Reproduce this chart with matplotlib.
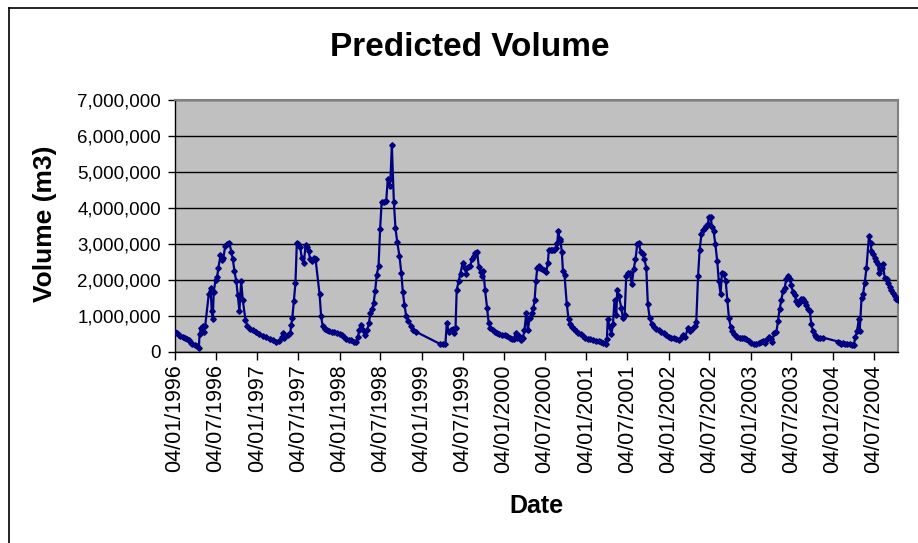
import numpy as np
import pandas as pd
import matplotlib
matplotlib.use("Agg")
import matplotlib.pyplot as plt
from matplotlib.lines import Line2D
from matplotlib.ticker import FuncFormatter, MultipleLocator

plt.rcParams['font.family'] = ['Liberation Sans', 'DejaVu Sans']

# sample dates (dd/mm/yyyy), one line per year
dates = [
    "04/01/1996", "12/01/1996", "21/01/1996", "28/01/1996", "08/02/1996", "18/02/1996", "27/02/1996", "05/03/1996",
    "13/03/1996", "20/03/1996", "31/03/1996", "10/04/1996", "19/04/1996", "22/04/1996", "29/04/1996", "06/05/1996",
    "11/05/1996", "17/05/1996", "02/06/1996", "10/06/1996", "15/06/1996", "20/06/1996", "24/06/1996", "02/07/1996",
    "09/07/1996", "15/07/1996", "24/07/1996", "01/08/1996", "06/08/1996", "14/08/1996", "23/08/1996", "02/09/1996",
    "10/09/1996", "17/09/1996", "24/09/1996", "02/10/1996", "09/10/1996", "16/10/1996", "24/10/1996", "31/10/1996",
    "12/11/1996", "20/11/1996", "30/11/1996", "14/12/1996", "30/12/1996",
    "13/01/1997", "28/01/1997", "12/02/1997", "27/02/1997", "13/03/1997", "28/03/1997", "12/04/1997", "22/04/1997",
    "27/04/1997", "04/05/1997", "19/05/1997", "30/05/1997", "03/06/1997", "08/06/1997", "15/06/1997", "22/06/1997",
    "28/06/1997", "05/07/1997", "13/07/1997", "20/07/1997", "29/07/1997", "06/08/1997", "13/08/1997", "19/08/1997",
    "26/08/1997", "04/09/1997", "11/09/1997", "19/09/1997", "07/10/1997", "14/10/1997", "21/10/1997", "01/11/1997",
    "10/11/1997", "20/11/1997", "30/11/1997", "12/12/1997", "24/12/1997",
    "04/01/1998", "14/01/1998", "23/01/1998", "02/02/1998", "13/02/1998", "25/02/1998", "08/03/1998", "19/03/1998",
    "26/03/1998", "02/04/1998", "10/04/1998", "20/04/1998", "29/04/1998", "07/05/1998", "14/05/1998", "21/05/1998",
    "29/05/1998", "04/06/1998", "11/06/1998", "18/06/1998", "26/06/1998", "03/07/1998", "10/07/1998", "19/07/1998",
    "30/07/1998", "06/08/1998", "14/08/1998", "18/08/1998", "24/08/1998", "02/09/1998", "09/09/1998", "17/09/1998",
    "27/09/1998", "05/10/1998", "12/10/1998", "19/10/1998", "27/10/1998", "06/11/1998", "18/11/1998", "28/11/1998",
    "10/12/1998",
    "24/03/1999", "07/04/1999", "19/04/1999", "25/04/1999", "04/05/1999", "15/05/1999", "22/05/1999", "29/05/1999",
    "03/06/1999", "08/06/1999", "17/06/1999", "25/06/1999", "05/07/1999", "13/07/1999", "20/07/1999", "27/07/1999",
    "07/08/1999", "14/08/1999", "23/08/1999", "30/08/1999", "07/09/1999", "14/09/1999", "22/09/1999", "29/09/1999",
    "05/10/1999", "12/10/1999", "21/10/1999", "28/10/1999", "05/11/1999", "15/11/1999", "26/11/1999", "05/12/1999",
    "15/12/1999", "25/12/1999",
    "07/01/2000", "19/01/2000", "29/01/2000", "08/02/2000", "17/02/2000", "25/02/2000", "03/03/2000", "10/03/2000",
    "21/03/2000", "28/03/2000", "04/04/2000", "12/04/2000", "19/04/2000", "27/04/2000", "07/05/2000", "14/05/2000",
    "19/05/2000", "25/05/2000", "31/05/2000", "06/06/2000", "13/06/2000", "22/06/2000", "29/06/2000", "10/07/2000",
    "17/07/2000", "21/07/2000", "29/07/2000", "05/08/2000", "13/08/2000", "20/08/2000", "28/08/2000", "01/09/2000",
    "07/09/2000", "11/09/2000", "17/09/2000", "22/09/2000", "29/09/2000", "09/10/2000", "17/10/2000", "24/10/2000",
    "31/10/2000", "09/11/2000", "20/11/2000", "30/11/2000", "09/12/2000", "19/12/2000", "30/12/2000",
    "11/01/2001", "21/01/2001", "02/02/2001", "14/02/2001", "27/02/2001", "11/03/2001", "21/03/2001", "30/03/2001",
    "05/04/2001", "09/04/2001", "17/04/2001", "25/04/2001", "02/05/2001", "09/05/2001", "17/05/2001", "21/05/2001",
    "28/05/2001", "08/06/2001", "15/06/2001", "23/06/2001", "30/06/2001", "07/07/2001", "15/07/2001", "25/07/2001",
    "02/08/2001", "10/08/2001", "18/08/2001", "25/08/2001", "02/09/2001", "12/09/2001", "19/09/2001", "27/09/2001",
    "04/10/2001", "12/10/2001", "22/10/2001", "31/10/2001", "10/11/2001", "21/11/2001", "03/12/2001", "14/12/2001",
    "25/12/2001",
    "06/01/2002", "16/01/2002", "28/01/2002", "08/02/2002", "18/02/2002", "27/02/2002", "09/03/2002", "20/03/2002",
    "31/03/2002", "08/04/2002", "18/04/2002", "30/04/2002", "07/05/2002", "15/05/2002", "22/05/2002", "30/05/2002",
    "06/06/2002", "13/06/2002", "21/06/2002", "28/06/2002", "02/07/2002", "10/07/2002", "16/07/2002", "23/07/2002",
    "31/07/2002", "08/08/2002", "15/08/2002", "23/08/2002", "29/08/2002", "06/09/2002", "15/09/2002", "22/09/2002",
    "29/09/2002", "07/10/2002", "14/10/2002", "21/10/2002", "29/10/2002", "05/11/2002", "16/11/2002", "26/11/2002",
    "05/12/2002", "15/12/2002", "26/12/2002",
    "07/01/2003", "18/01/2003", "29/01/2003", "08/02/2003", "17/02/2003", "27/02/2003", "07/03/2003", "14/03/2003",
    "24/03/2003", "02/04/2003", "10/04/2003", "17/04/2003", "28/04/2003", "05/05/2003", "12/05/2003", "20/05/2003",
    "27/05/2003", "04/06/2003", "11/06/2003", "18/06/2003", "26/06/2003", "03/07/2003", "10/07/2003", "18/07/2003",
    "25/07/2003", "02/08/2003", "09/08/2003", "17/08/2003", "24/08/2003", "31/08/2003", "08/09/2003", "15/09/2003",
    "23/09/2003", "30/09/2003", "07/10/2003", "15/10/2003", "22/10/2003", "29/10/2003", "09/11/2003", "21/11/2003",
    "27/01/2004", "03/02/2004", "11/02/2004", "18/02/2004", "28/02/2004", "08/03/2004", "19/03/2004", "29/03/2004",
    "05/04/2004", "13/04/2004", "20/04/2004", "28/04/2004", "02/05/2004", "10/05/2004", "17/05/2004", "24/05/2004",
    "01/06/2004", "12/06/2004", "19/06/2004", "23/06/2004", "30/06/2004", "08/07/2004", "15/07/2004", "22/07/2004",
    "27/07/2004", "02/08/2004", "09/08/2004", "13/08/2004", "21/08/2004", "29/08/2004", "05/09/2004", "12/09/2004",
    "20/09/2004", "27/09/2004", "04/10/2004", "12/10/2004", "19/10/2004",
]

# predicted volume, millions of m3
volume_mm3 = [
    0.56, 0.52, 0.47, 0.44, 0.42, 0.39, 0.37, 0.33, 0.26, 0.22, 0.19, 0.17, 0.12, 0.49, 0.68, 0.72,
    0.56, 0.72, 1.61, 1.77, 1.15, 0.93, 1.68, 1.99, 2.09, 2.34, 2.69, 2.56, 2.62, 2.94, 2.99, 3.02,
    2.78, 2.57, 2.25, 1.97, 1.57, 1.14, 1.97, 1.44, 0.89, 0.72, 0.64, 0.60, 0.56,
    0.50, 0.45, 0.41, 0.36, 0.33, 0.29, 0.30, 0.42, 0.53, 0.40, 0.46, 0.52, 0.75, 0.94, 1.43, 1.92,
    3.03, 3.01, 2.92, 2.61, 2.47, 2.96, 2.92, 2.80, 2.59, 2.52, 2.61, 2.59, 1.61, 0.99, 0.71, 0.64,
    0.61, 0.57, 0.55, 0.55, 0.52,
    0.50, 0.46, 0.41, 0.36, 0.33, 0.33, 0.29, 0.29, 0.43, 0.61, 0.75, 0.61, 0.46, 0.61, 0.80, 1.08,
    1.20, 1.36, 1.70, 2.15, 2.38, 3.43, 4.18, 4.18, 4.20, 4.80, 4.61, 4.80, 5.75, 4.18, 3.45, 3.05,
    2.66, 2.20, 1.66, 1.31, 0.99, 0.87, 0.73, 0.61, 0.56,
    0.23, 0.21, 0.23, 0.80, 0.56, 0.60, 0.65, 0.52, 0.68, 1.72, 1.97, 2.18, 2.48, 2.34, 2.18, 2.37,
    2.39, 2.57, 2.67, 2.76, 2.78, 2.37, 2.22, 2.11, 2.25, 1.72, 1.23, 0.81, 0.68, 0.61, 0.56, 0.52,
    0.49, 0.47,
    0.47, 0.44, 0.40, 0.37, 0.37, 0.52, 0.40, 0.44, 0.33, 0.40, 0.60, 1.09, 0.60, 0.95, 1.09, 1.23,
    1.44, 1.97, 2.34, 2.39, 2.34, 2.30, 2.28, 2.23, 2.48, 2.82, 2.82, 2.82, 2.82, 2.90, 3.04, 3.36,
    3.13, 3.08, 2.78, 2.25, 2.13, 1.32, 0.91, 0.77, 0.70, 0.63, 0.58, 0.54, 0.49, 0.44, 0.40,
    0.37, 0.35, 0.33, 0.31, 0.30, 0.28, 0.24, 0.21, 0.35, 0.91, 0.70, 0.49, 0.77, 1.44, 1.02, 1.72,
    1.56, 1.23, 0.95, 1.04, 2.11, 2.20, 2.20, 1.88, 2.30, 2.57, 2.99, 3.02, 2.79, 2.71, 2.57, 2.34,
    1.32, 0.95, 0.77, 0.70, 0.65, 0.61, 0.56, 0.52, 0.46,
    0.43, 0.40, 0.38, 0.35, 0.33, 0.40, 0.46, 0.43, 0.68, 0.58, 0.63, 0.72, 0.83, 2.11, 2.83, 3.27,
    3.38, 3.44, 3.49, 3.56, 3.75, 3.75, 3.47, 3.35, 2.99, 2.53, 1.97, 1.62, 2.20, 2.16, 1.97, 1.44,
    0.95, 0.70, 0.58, 0.51, 0.44, 0.42, 0.40, 0.40, 0.38, 0.35, 0.31,
    0.26, 0.23, 0.23, 0.26, 0.29, 0.31, 0.26, 0.33, 0.42, 0.35, 0.28, 0.52, 0.56, 0.86, 1.19, 1.44,
    1.69, 1.79, 2.04, 2.11, 2.02, 1.85, 1.68, 1.57, 1.42, 1.32, 1.39, 1.48, 1.46, 1.39, 1.30, 1.20,
    1.14, 0.77, 0.58, 0.46, 0.42, 0.40, 0.40, 0.40,
    0.29, 0.26, 0.23, 0.26, 0.23, 0.23, 0.21, 0.19, 0.19, 0.42, 0.58, 0.91, 0.58, 1.49, 1.62, 1.91,
    2.34, 3.22, 3.04, 2.81, 2.71, 2.62, 2.53, 2.44, 2.20, 2.30, 2.34, 2.44, 2.06, 2.02, 1.91, 1.81,
    1.72, 1.65, 1.56, 1.46, 1.44,
]

tick_labels = [
    "04/01/1996", "04/07/1996", "04/01/1997", "04/07/1997", "04/01/1998", "04/07/1998",
    "04/01/1999", "04/07/1999", "04/01/2000", "04/07/2000", "04/01/2001", "04/07/2001",
    "04/01/2002", "04/07/2002", "04/01/2003", "04/07/2003", "04/01/2004", "04/07/2004",
]

when = pd.to_datetime(dates, format="%d/%m/%Y")
volume = np.array(volume_mm3) * 1e6
ticks = pd.to_datetime(tick_labels, format="%d/%m/%Y")

W, H = 918, 543
fig = plt.figure(figsize=(W / 100, H / 100), dpi=100)
fig.patch.set_facecolor("white")

# chart area border (left and top edges are in frame)
fig.add_artist(Line2D([9 / W, 9 / W], [0, 1 - 8 / H], color="black", lw=1.2))
fig.add_artist(Line2D([9 / W, 1], [1 - 8 / H, 1 - 8 / H], color="black", lw=1.2))

ax = fig.add_axes([175 / W, 1 - 352 / H, (898 - 175) / W, (352 - 100) / H])
ax.set_facecolor("#C0C0C0")
ax.set_axisbelow(True)
ax.yaxis.grid(True, color="black", lw=1.0)

ax.plot(when, volume, color="#000080", lw=1.6, marker="D", ms=2.8,
        mfc="#000080", mec="#000080", zorder=3)

ax.set_xlim(when[0], when[-1])
ax.set_ylim(0, 7e6)
ax.yaxis.set_major_locator(MultipleLocator(1e6))
ax.yaxis.set_major_formatter(FuncFormatter(lambda v, p: f"{v:,.0f}"))
ax.set_xticks(ticks)
ax.set_xticklabels(tick_labels, rotation=90)

for side in ("top", "right"):
    ax.spines[side].set_color("#808080")
    ax.spines[side].set_linewidth(1.5)
for side in ("left", "bottom"):
    ax.spines[side].set_color("black")
    ax.spines[side].set_linewidth(1.0)

ax.tick_params(axis="y", direction="out", length=5, width=1, pad=5, labelsize=13.5)
ax.tick_params(axis="x", direction="out", length=6, width=1, pad=3, labelsize=15.5)

fig.text(470 / W, 1 - 47 / H, "Predicted Volume", ha="center", va="center",
         fontsize=24, fontweight="bold")
fig.text(536 / W, 1 - 506 / H, "Date", ha="center", va="center",
         fontsize=18, fontweight="bold")
fig.text(45 / W, 1 - 224 / H, "Volume (m3)", ha="center", va="center",
         rotation=90, fontsize=19, fontweight="bold")

fig.savefig("out.png", dpi=100)
